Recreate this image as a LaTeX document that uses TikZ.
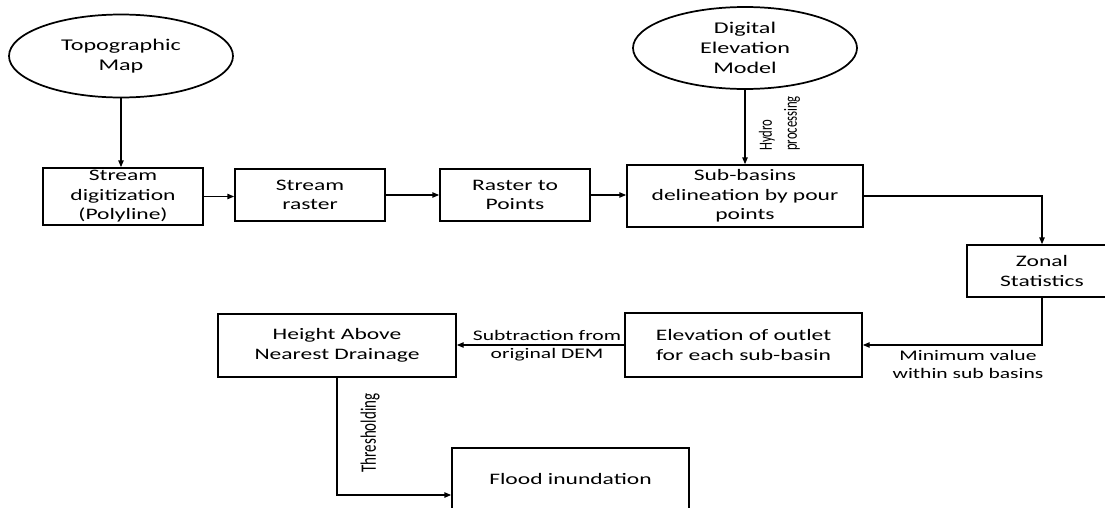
\documentclass[tikz,border=0pt]{standalone}
\usepackage{fontspec}
\setmainfont{Carlito}[FakeStretch=1.47]
\newfontfamily\rotfont{Carlito}[FakeStretch=0.68]
\usetikzlibrary{shapes.geometric,arrows.meta,calc}
\tikzset{
  procbox/.style={draw, line width=1.3pt, align=center, inner sep=0pt,
    font=\fontsize{12}{14.6}\selectfont},
  srcell/.style={draw, ellipse, line width=1.3pt, inner sep=0pt},
  elltext/.style={align=center, inner sep=0pt, font=\fontsize{12.3}{15.2}\selectfont},
  conn/.style={line width=0.8pt, -{Triangle[length=5pt,width=4pt]}},
  lbl/.style={font=\fontsize{11}{13.5}\selectfont, align=center, inner sep=1pt},
  rlbl/.style={font=\rotfont\fontsize{16.5}{20}\selectfont, rotate=90, align=left, inner sep=0pt},
  rlblsmall/.style={font=\rotfont\fontsize{14}{18.75}\selectfont, rotate=90, align=left, inner sep=0pt},
  sz/.style 2 args={minimum width={#1*0.75pt}, minimum height={#2*0.75pt}}
}
\begin{document}
\begin{tikzpicture}[x=0.75pt,y=0.75pt]
\useasboundingbox (0,0) rectangle (1105,-507);
\clip (0,0) rectangle (1105,-507);
\fill[white] (0,0) rectangle (1105,-507);

% sources
\node[srcell, sz={224}{83}] (topo) at (121,-56) {};
\node[elltext] (topotxt) at (topo.center) {Topographic\\Map};
\node[srcell, sz={224}{82}] (dem) at (745,-48) {};
\node[elltext] (demtxt) at (dem.center) {Digital\\Elevation\\Model};

% process boxes
\node[procbox, sz={160}{57}] (sd) at (123,-196.5) {Stream\\digitization\\(Polyline)};
\node[procbox, sz={150}{52}] (sr) at (310,-195) {Stream\\raster};
\node[procbox, sz={150}{52}] (rp) at (515,-195) {Raster to\\Points};
\node[procbox, sz={236}{62}] (sb) at (745,-196) {Sub-basins\\delineation by pour\\points};
\node[procbox, sz={150}{52}] (zs) at (1042,-271) {Zonal\\Statistics};
\node[procbox, sz={237}{64}] (el) at (743.5,-345) {Elevation of outlet\\for each sub-basin};
\node[procbox, sz={238}{63}] (hand) at (337,-345.5) {Height Above\\Nearest Drainage};
\node[procbox, sz={237}{62}] (flood) at (570.5,-479) {Flood inundation};

% connectors
\draw[conn] (topo.south) -- (topo.south |- sd.north);
\draw[conn] (sd.east) -- (sd.east -| sr.west);
\draw[conn] (sr.east) -- (sr.east -| rp.west);
\draw[conn] (rp.east) -- (rp.east -| sb.west);
\draw[conn] (dem.south) -- (dem.south |- sb.north);
\draw[conn] (sb.east) -| (zs.north);
\draw[conn] (zs.south) |- (el.east);
\draw[conn] (el.west) -- (el.west -| hand.east);
\draw[conn] (hand.south) |- ($(flood.west)+(0,-16)$);

% labels
\node[rlblsmall] (hydlbl) at (779.5,-123.5) {Hydro\\processing};
\node[lbl] (minlbl) at (968,-364) {Minimum value\\within sub basins};
\node[lbl] (sublbl) at (547,-346) {Subtraction from\\original DEM};
\node[rlbl] (thrlbl) at (370,-433) {Thresholding};
\end{tikzpicture}
\end{document}
